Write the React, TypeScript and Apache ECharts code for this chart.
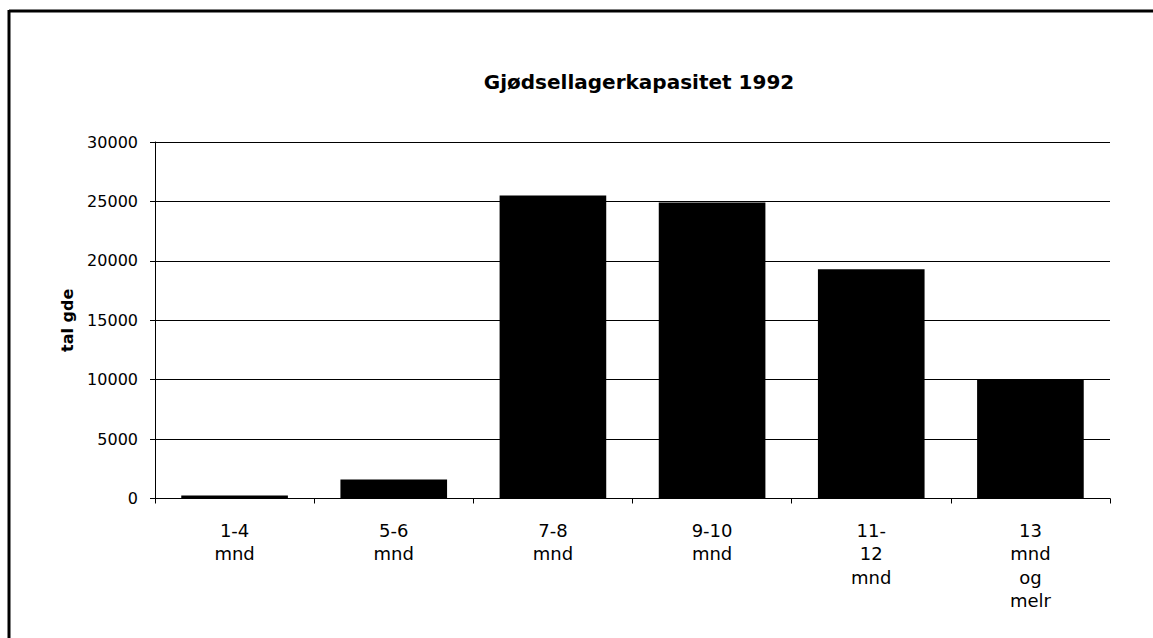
import React, { useEffect, useRef } from "react";
import * as echarts from "echarts";

const title = "Gjødsellagerkapasitet 1992";
const yAxisName = "tal gde";
const categories = ["1-4\nmnd", "5-6\nmnd", "7-8\nmnd", "9-10\nmnd", "11-\n12\nmnd", "13\nmnd\nog\nmelr"];
const values = [250, 1600, 25500, 24900, 19300, 10050];
const yTicks = { min: 0, max: 30000, interval: 5000 };

const FONT = "DejaVu Sans";

export default function App() {
  const ref = useRef<HTMLDivElement>(null);
  useEffect(() => {
    const chart = echarts.init(ref.current!, undefined, { renderer: "svg" });
    chart.setOption({
      animation: false,
      backgroundColor: "#ffffff",
      title: {
        text: title,
        left: 634,
        top: 67,
        textAlign: "center",
        textStyle: { fontFamily: FONT, fontSize: 20, fontWeight: "bold", color: "#000" },
      },
      grid: { left: 155, right: 43, top: 142, bottom: 139.5 },
      xAxis: {
        type: "category",
        data: categories,
        boundaryGap: true,
        axisLine: { lineStyle: { color: "#000", width: 1 } },
        axisTick: { show: true, alignWithLabel: false, length: 5, inside: false, lineStyle: { color: "#000" } },
        axisLabel: { fontFamily: FONT, fontSize: 18, color: "#000", lineHeight: 23.5, margin: 20, interval: 0 },
        splitLine: { show: false },
      },
      yAxis: {
        type: "value",
        min: yTicks.min,
        max: yTicks.max,
        interval: yTicks.interval,
        name: yAxisName,
        nameLocation: "middle",
        nameGap: 80,
        nameRotate: 90,
        nameTextStyle: { fontFamily: FONT, fontSize: 16, fontWeight: "bold", color: "#000" },
        axisLine: { show: true, lineStyle: { color: "#000", width: 1 } },
        axisTick: { show: true, length: 5, lineStyle: { color: "#000" } },
        axisLabel: { fontFamily: FONT, fontSize: 16, color: "#000", margin: 17, formatter: (v: number) => String(v) },
        splitLine: { show: true, lineStyle: { color: "#000", width: 1 } },
      },
      series: [
        {
          type: "bar",
          data: values,
          barWidth: "67%",
          itemStyle: { color: "#000" },
        },
      ],
      graphic: [
        { type: "line", shape: { x1: 9, y1: 11, x2: 1153, y2: 11 }, style: { stroke: "#000", lineWidth: 3 } },
        { type: "line", shape: { x1: 9, y1: 10, x2: 9, y2: 638 }, style: { stroke: "#000", lineWidth: 3 } },
      ],
    });
    return () => chart.dispose();
  }, []);
  return <div ref={ref} style={{ position: "fixed", left: 0, top: 0, width: 1153, height: 638 }} />;
}
